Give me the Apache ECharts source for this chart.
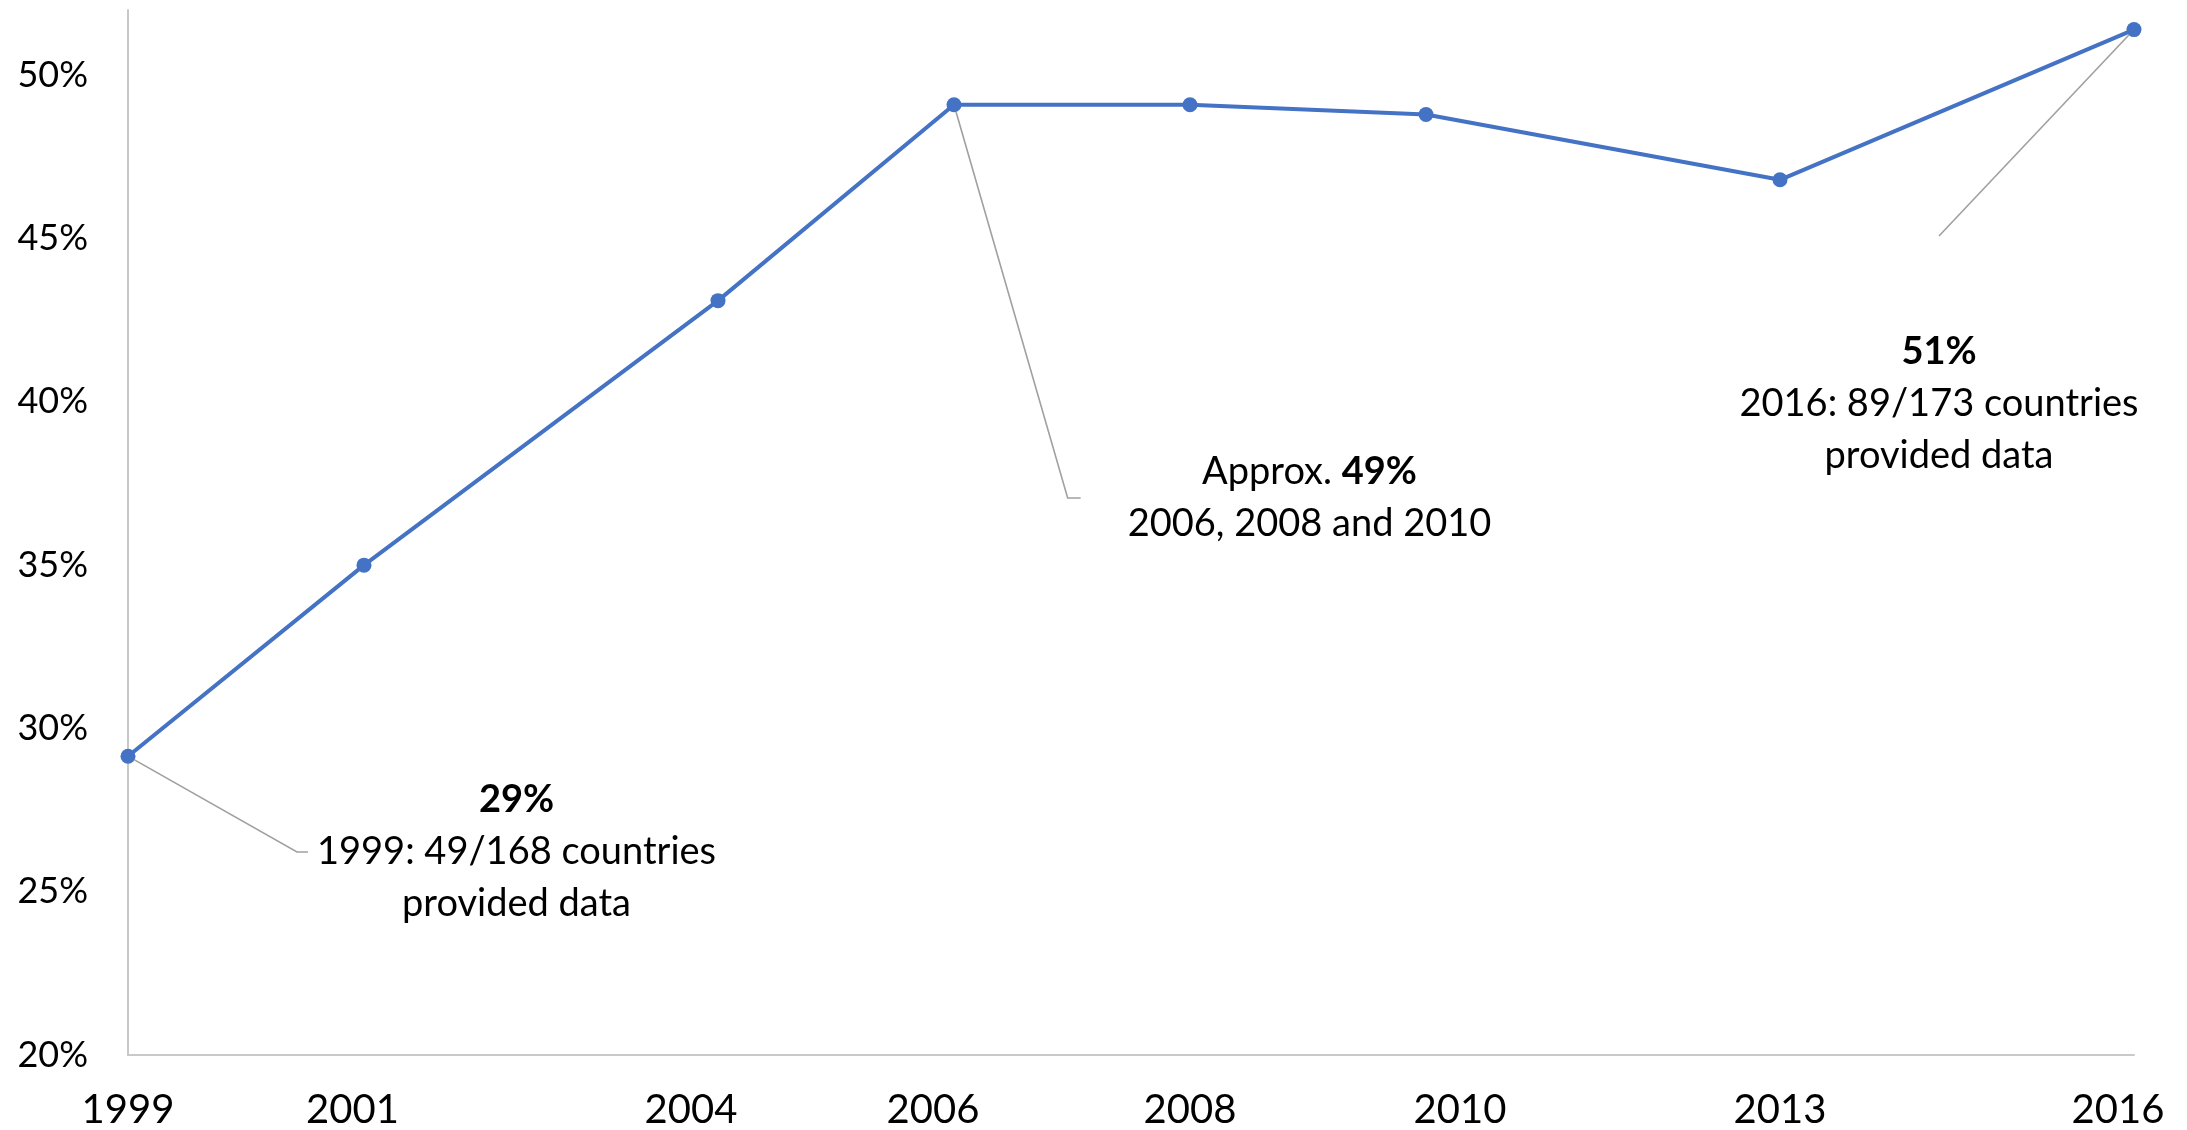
<!DOCTYPE html>
<html>
<head>
<meta charset="utf-8">
<script src="https://cdn.jsdelivr.net/npm/echarts@6/dist/echarts.min.js"></script>
<style>
  html, body { margin: 0; padding: 0; background: #fff; }
  #share-chart { width: 2187px; height: 1130px; }
</style>
</head>
<body>
<div id="share-chart"></div>
<script>
// survey years and share (%)
const years = [1999, 2001, 2004, 2006, 2008, 2010, 2013, 2016];
const shares = [29.15, 35.0, 43.1, 49.1, 49.1, 48.8, 46.8, 51.4];
const yMin = 20, yMax = 52, yStep = 5;

// callout texts, by point index
const noteTexts = [
  '{b|29%}\n1999: 49/168 countries\nprovided data',
  null, null,
  'Approx. {b|49%}\n2006, 2008 and 2010',
  null, null, null,
  '{b|51%}\n2016: 89/173 countries\nprovided data'
];

// where the callouts sit (pixels) and how their leader ends
const noteBoxes = {
  0: { x: 512, y: 774, padding: [0, 0, 0, 9], length2: 11 },
  3: { x: 1286, y: 446, padding: [0, 0, 0, 47], length2: 13 },
  7: { x: 1939, y: 236, padding: [90, 0, 0, 0], length2: 0 }
};

// small nudges of the year labels, like in the original
const xLabelShift = { 2001: -11.5, 2004: -27, 2006: -21, 2010: 34, 2016: -16 };

const font = 'Lato, "Open Sans", sans-serif';

let xRich = {};
years.forEach(function (yr) {
  let s = xLabelShift[yr] || 0;
  xRich['y' + yr] = {
    fontFamily: font, fontSize: 40, lineHeight: 48, color: '#000',
    padding: s < 0 ? [0, -2 * s, 0, 0] : [0, 0, 0, 2 * s]
  };
});

let seriesData = years.map(function (yr, i) {
  let item = { value: [yr, shares[i]] };
  if (noteTexts[i]) {
    let box = noteBoxes[i];
    item.label = {
      show: true,
      formatter: noteTexts[i],
      padding: box.padding,
      backgroundColor: 'rgba(0,0,0,0)'
    };
    item.labelLine = { show: true, length2: box.length2 };
  }
  return item;
});

let myChart = echarts.init(document.getElementById('share-chart'));
let option = {
  animation: false,
  backgroundColor: '#fff',
  grid: { left: 128, right: 53, top: 10, bottom: 75, containLabel: false, outerBoundsMode: 'none' },
  xAxis: {
    type: 'value',
    min: years[0],
    max: years[years.length - 1],
    axisLine: { show: true, lineStyle: { color: '#c9c9c9', width: 2 } },
    axisTick: { show: false },
    splitLine: { show: false },
    axisLabel: {
      customValues: years,
      margin: 31,
      formatter: function (v) { return '{y' + v + '|' + v + '}'; },
      rich: xRich
    }
  },
  yAxis: {
    type: 'value',
    min: yMin,
    max: yMax,
    interval: yStep,
    axisLine: { show: true, lineStyle: { color: '#c9c9c9', width: 2 } },
    axisTick: { show: false },
    splitLine: { show: false },
    axisLabel: {
      showMaxLabel: false,
      margin: 40,
      fontFamily: font,
      fontSize: 36,
      color: '#000',
      formatter: '{value}%'
    }
  },
  series: [{
    type: 'line',
    data: seriesData,
    symbol: 'circle',
    symbolSize: 15,
    lineStyle: { color: '#4472C4', width: 4 },
    itemStyle: { color: '#4472C4' },
    label: {
      show: false,
      fontFamily: font,
      fontSize: 38,
      lineHeight: 52,
      color: '#000',
      align: 'center',
      rich: {
        b: { fontFamily: font, fontSize: 38, lineHeight: 52, fontWeight: 'bold', color: '#000' }
      }
    },
    labelLine: {
      show: false,
      lineStyle: { color: '#a0a0a0', width: 1.6 }
    },
    labelLayout: function (params) {
      let box = noteBoxes[params.dataIndex];
      if (!box) return {};
      return { x: box.x, y: box.y, align: 'center', verticalAlign: 'top' };
    },
    emphasis: { disabled: true }
  }]
};
myChart.setOption(option);
</script>
</body>
</html>
